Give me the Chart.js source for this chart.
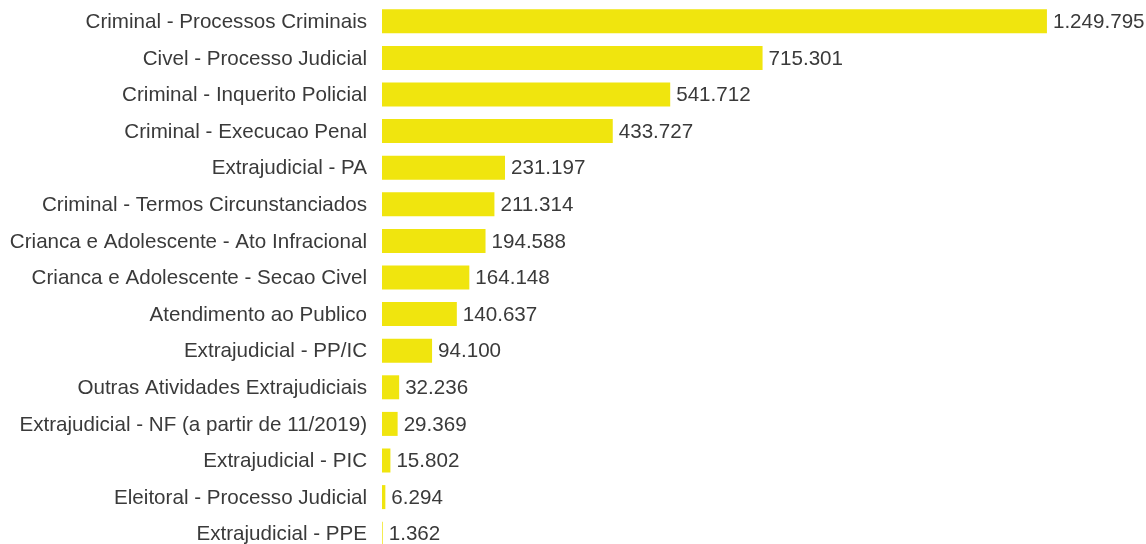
<!DOCTYPE html>
<html lang="pt">
<head>
  <meta charset="UTF-8">
  <title>Atividades</title>
  <script src="https://cdn.jsdelivr.net/npm/chart.js"></script>
  <style>
    html, body { margin: 0; padding: 0; background: #fff; overflow: hidden; }
    #wrap { width: 1146px; height: 552px; position: relative; }
  </style>
</head>
<body>
  <div id="wrap"><canvas id="chart"></canvas></div>
  <script>
    const categories = [
      'Criminal - Processos Criminais',
      'Civel - Processo Judicial',
      'Criminal - Inquerito Policial',
      'Criminal - Execucao Penal',
      'Extrajudicial - PA',
      'Criminal - Termos Circunstanciados',
      'Crianca e Adolescente - Ato Infracional',
      'Crianca e Adolescente - Secao Civel',
      'Atendimento ao Publico',
      'Extrajudicial - PP/IC',
      'Outras Atividades Extrajudiciais',
      'Extrajudicial - NF (a partir de 11/2019)',
      'Extrajudicial - PIC',
      'Eleitoral - Processo Judicial',
      'Extrajudicial - PPE'
    ];
    const values = [1249795, 715301, 541712, 433727, 231197, 211314, 194588, 164148, 140637, 94100, 32236, 29369, 15802, 6294, 1362];

    const fmt = v => v.toLocaleString('de-DE');
    const FONT = 'Arial, "Liberation Sans", sans-serif';
    const SIZE = 20.6;

    // value text right of each bar
    const valueLabels = {
      id: 'valueLabels',
      afterDatasetsDraw(chart) {
        const ctx = chart.ctx;
        const meta = chart.getDatasetMeta(0);
        ctx.save();
        ctx.font = SIZE + 'px ' + FONT;
        ctx.fillStyle = '#3a3a3a';
        ctx.textBaseline = 'middle';
        ctx.textAlign = 'left';
        meta.data.forEach((bar, i) => {
          ctx.fillText(fmt(values[i]), bar.x + 6, bar.y + 1);
        });
        ctx.restore();
      }
    };

    new Chart(document.getElementById('chart'), {
      type: 'bar',
      data: {
        labels: categories,
        datasets: [{
          data: values,
          backgroundColor: '#F0E50E',
          borderWidth: 0,
          barPercentage: 0.656,
          categoryPercentage: 1
        }]
      },
      options: {
        indexAxis: 'y',
        responsive: true,
        maintainAspectRatio: false,
        animation: false,
        layout: { padding: { top: 3, bottom: 0, left: 0, right: 0 } },
        plugins: { legend: { display: false }, tooltip: { enabled: false } },
        scales: {
          x: { display: false, min: 0, max: 1436000 },
          y: {
            grid: { display: false, drawTicks: false },
            border: { display: false },
            ticks: { color: '#3a3a3a', font: { family: FONT, size: SIZE }, padding: 15, labelOffset: 1 },
            afterFit(scale) {
              scale.width = 382;
              scale.paddingTop = 0;
              scale.paddingBottom = 0;
            }
          }
        }
      },
      plugins: [valueLabels]
    });
  </script>
</body>
</html>
